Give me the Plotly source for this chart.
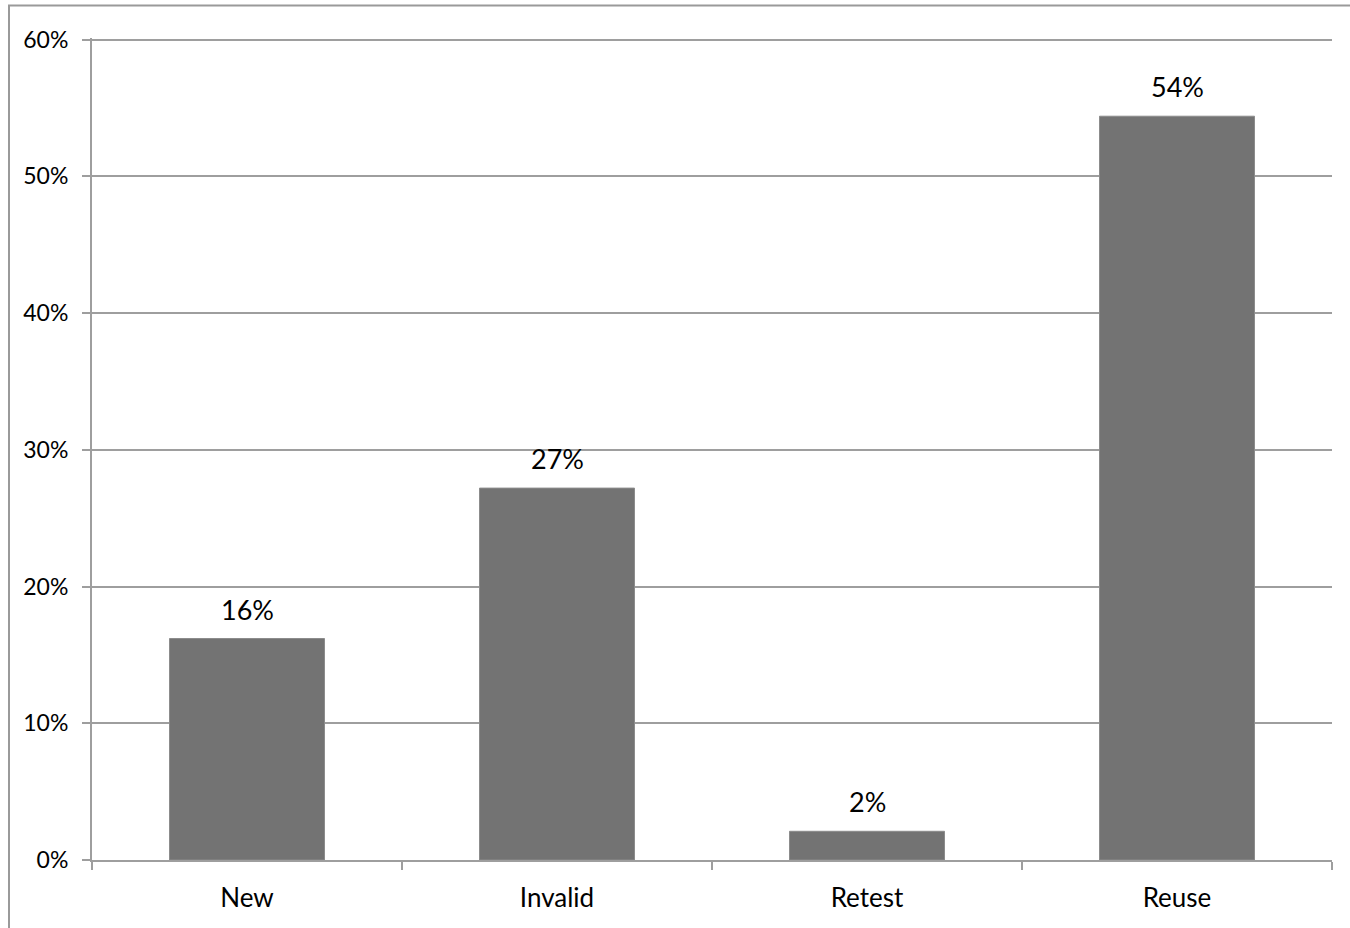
import plotly.graph_objects as go

categories = ["New", "Invalid", "Retest", "Reuse"]
values = [0.162, 0.272, 0.021, 0.544]
labels = ["16%", "27%", "2%", "54%"]
tick_vals = [0, 0.1, 0.2, 0.3, 0.4, 0.5, 0.6]
tick_text = ["0%", "10%", "20%", "30%", "40%", "50%", "60%"]

FONT = "Lato, 'Noto Sans', sans-serif"
GRID = "#9e9e9e"

fig = go.Figure()
fig.add_trace(go.Bar(
    x=categories, y=values, width=0.5,
    marker=dict(color="#737373", line=dict(color="#8c8c8c", width=1)),
    hoverinfo="skip",
))

for c, v, t in zip(categories, values, labels):
    fig.add_annotation(x=c, y=v, text=t, showarrow=False, yanchor="bottom",
                       yshift=11, font=dict(family=FONT, size=27, color="#000000"))

fig.add_shape(type="rect", xref="paper", yref="paper",
              x0=(9 - 92) / 1240, x1=1.2, y0=-0.2, y1=(860 - 6) / 821.5,
              line=dict(color="#9a9a9a", width=2), fillcolor="rgba(0,0,0,0)", layer="below")

fig.update_layout(
    width=1350, height=928,
    margin=dict(l=92, r=18, t=38, b=68),
    paper_bgcolor="white", plot_bgcolor="white",
    showlegend=False, bargap=0.5,
    font=dict(family=FONT, color="#000000"),
)
fig.update_xaxes(
    type="category", tickson="boundaries", ticks="outside", ticklen=8,
    tickcolor=GRID, tickwidth=2, showline=True, linecolor=GRID, linewidth=2,
    showgrid=False, tickfont=dict(family=FONT, size=26), ticklabelstandoff=14,
)
fig.update_yaxes(
    range=[0, 0.6012], tickvals=tick_vals, ticktext=tick_text,
    ticks="outside", ticklen=8, tickcolor=GRID, tickwidth=2,
    showline=True, linecolor=GRID, linewidth=2, showgrid=True,
    gridcolor=GRID, gridwidth=2, zeroline=False,
    tickfont=dict(family=FONT, size=23), ticklabelstandoff=9,
)
fig.write_html("out.html")
